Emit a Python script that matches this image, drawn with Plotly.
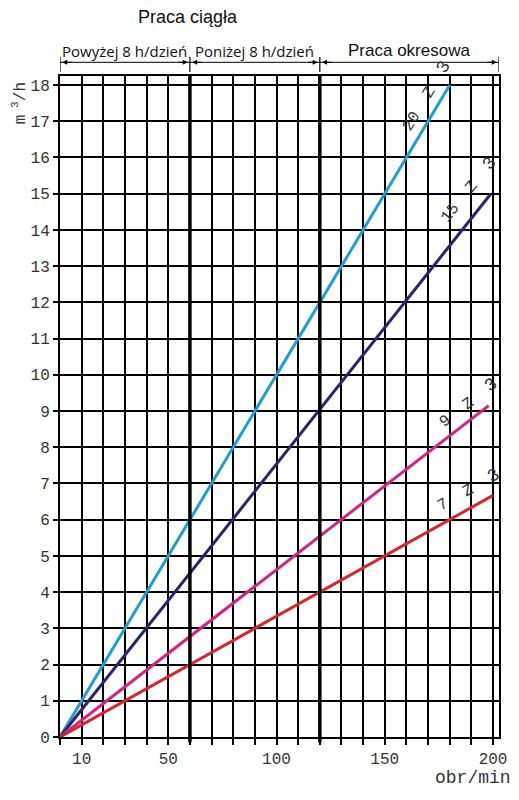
import plotly.graph_objects as go

# ---- data ----
series_names = ["20", "15", "9", "7"]
series_colors = ["#1E9FD4", "#2B2270", "#D2237F", "#D7262A"]
rpm_start = [0, 0, 0, 0]
rpm_end = [180, 199, 198, 200]
flow_start = [0, 0, 0, 0]
flow_end = [18.0, 15.0, 9.15, 6.67]

x_tick_vals = [10, 50, 100, 150, 200]
y_tick_vals = list(range(0, 19))
zone_bounds = [0, 60, 120, 202.75]
zone_labels = ["Powyżej 8 h/dzień", "Poniżej 8 h/dzień", "Praca okresowa"]

X_MAX = 202.75
Y_MAX = 18.25

fig = go.Figure()
for name, col, x0, x1, y0, y1 in zip(series_names, series_colors, rpm_start, rpm_end, flow_start, flow_end):
    fig.add_trace(go.Scatter(x=[x0, x1], y=[y0, y1], mode="lines",
                             line=dict(color=col, width=3), name=name,
                             showlegend=False, hoverinfo="skip"))

mono = "Liberation Mono, Courier New, monospace"
tickfont = dict(family=mono, size=16, color="#333333")

# the page body has an 8px margin; the plot area is placed so that it lands at
# x 60..502, y 76..737 in the window
fig.update_layout(
    width=511, height=792,
    margin=dict(l=52, r=17, t=68, b=63),
    paper_bgcolor="white", plot_bgcolor="white",
    xaxis=dict(range=[0, X_MAX], tickvals=x_tick_vals, showgrid=True,
               gridcolor="black", gridwidth=1.8, zeroline=False,
               ticks="outside", ticklen=6, tickcolor="black", tickwidth=1.8,
               tickfont=tickfont, showline=True, mirror=True,
               linecolor="black", linewidth=2,
               minor=dict(dtick=10, tick0=0, showgrid=True, gridcolor="black",
                          gridwidth=1.8, ticks="outside", ticklen=6,
                          tickcolor="black", tickwidth=1.8)),
    yaxis=dict(range=[0, Y_MAX], tickvals=y_tick_vals, showgrid=True,
               gridcolor="black", gridwidth=1.8, zeroline=False,
               ticks="outside", ticklen=5, tickcolor="black", tickwidth=1.8,
               tickfont=tickfont, showline=True, mirror=True,
               linecolor="black", linewidth=2),
)

PW, PH = 441.7, 661.0  # plot area size in px


def px_x(px):
    return (px - 60) / PW


def px_y(py):
    return (737 - py) / PH


shapes = []
for xb in zone_bounds[1:3]:
    shapes.append(dict(type="line", xref="x", yref="paper", x0=xb, x1=xb,
                       y0=-0.008, y1=1.0, line=dict(color="black", width=3.5)))
hy = px_y(62.3)
shapes.append(dict(type="line", xref="x", yref="paper", x0=zone_bounds[0],
                   x1=zone_bounds[-1], y0=hy, y1=hy,
                   line=dict(color="black", width=1)))
for xb in zone_bounds:
    shapes.append(dict(type="line", xref="x", yref="paper", x0=xb, x1=xb,
                       y0=px_y(72), y1=px_y(57), line=dict(color="black", width=1.2)))
fig.update_layout(shapes=shapes)

ann = []
for i in range(3):
    a, b = zone_bounds[i], zone_bounds[i + 1]
    ann.append(dict(x=a + 1.0, y=hy, xref="x", yref="paper", text="",
                    showarrow=True, ax=11, ay=0, arrowhead=2, arrowsize=1,
                    arrowwidth=1, arrowcolor="black", standoff=0))
    ann.append(dict(x=b - 1.0, y=hy, xref="x", yref="paper", text="",
                    showarrow=True, ax=-11, ay=0, arrowhead=2, arrowsize=1,
                    arrowwidth=1, arrowcolor="black", standoff=0))

zone_fonts = [dict(family="Open Sans, Noto Sans", size=15, color="#111111"),
              dict(family="Open Sans, Noto Sans", size=15, color="#111111"),
              dict(family="Liberation Sans, Arial", size=17, color="#111111")]
zone_py = [51, 51, 50]
for i, lab in enumerate(zone_labels):
    ann.append(dict(x=(zone_bounds[i] + zone_bounds[i + 1]) / 2, y=px_y(zone_py[i]),
                    xref="x", yref="paper", text=lab, showarrow=False,
                    xanchor="center", yanchor="middle", font=zone_fonts[i]))

ann.append(dict(x=px_x(189), y=px_y(17), xref="paper", yref="paper",
                text="Praca ciągła", showarrow=False, xanchor="center",
                yanchor="middle",
                font=dict(family="Liberation Sans, Arial", size=18, color="#111111")))

ann.append(dict(x=px_x(20), y=px_y(103), xref="paper", yref="paper",
                text="m<sup> 3</sup>/h", textangle=-90, xanchor="center",
                yanchor="middle", showarrow=False,
                font=dict(family=mono, size=16, color="#333333")))
ann.append(dict(x=px_x(476), y=px_y(778), xref="paper", yref="paper",
                text="obr/min", showarrow=False, xanchor="center",
                yanchor="middle",
                font=dict(family=mono, size=18, color="#333333")))

label_pos = [(169.9, 17.65, -59), (189.2, 15.06, -51), (189.2, 9.17, -37.6), (189.2, 6.77, -29)]
for name, (lx, ly, ang) in zip(series_names, label_pos):
    ann.append(dict(x=lx, y=ly, xref="x", yref="y",
                    text=name + "  Z  <span style='font-size:18px'>3</span>",
                    textangle=ang, showarrow=False, xanchor="center",
                    yanchor="middle", xshift=-2, yshift=2,
                    font=dict(family=mono, size=16, color="#333333")))

fig.update_layout(annotations=ann)
fig.write_html("out.html")
